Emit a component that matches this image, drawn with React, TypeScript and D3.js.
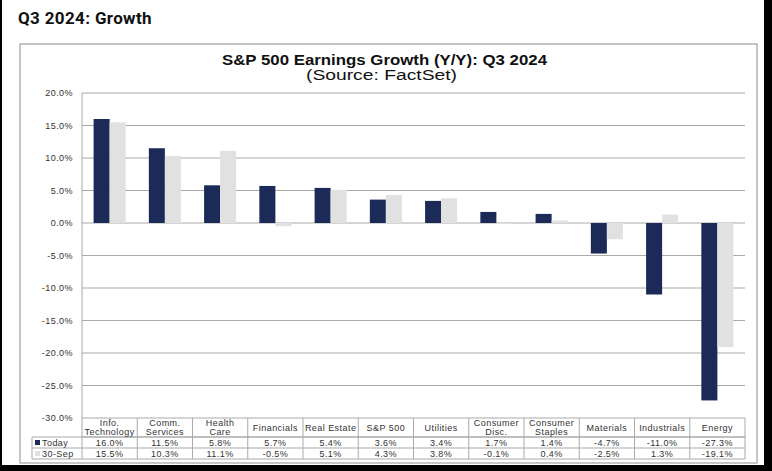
import React from "react";
import * as d3 from "d3";

const categories = [
  ["Info.", "Technology"],
  ["Comm.", "Services"],
  ["Health", "Care"],
  ["Financials"],
  ["Real Estate"],
  ["S&P 500"],
  ["Utilities"],
  ["Consumer", "Disc."],
  ["Consumer", "Staples"],
  ["Materials"],
  ["Industrials"],
  ["Energy"],
];
const todayValues = [16.0, 11.5, 5.8, 5.7, 5.4, 3.6, 3.4, 1.7, 1.4, -4.7, -11.0, -27.3];
const sepValues = [15.5, 10.3, 11.1, -0.5, 5.1, 4.3, 3.8, -0.1, 0.4, -2.5, 1.3, -19.1];
const seriesNames = ["Today", "30-Sep"];
const yTicks = [20, 15, 10, 5, 0, -5, -10, -15, -20, -25, -30];

const W = 772;
const H = 471;
const NAVY = "#1b2a56";
const LIGHT = "#e1e1e1";
const GRID = "#a9a9a9";
const FONT = "'Liberation Sans', Arial, sans-serif";

export default function App() {
  const plotL = 82;
  const plotR = 745;
  const plotT = 93;
  const plotB = 418;
  const x = d3
    .scaleBand<number>()
    .domain(d3.range(categories.length))
    .range([plotL, plotR])
    .paddingInner(0.42)
    .paddingOuter(0.21);
  const xSub = d3.scaleBand<number>().domain([0, 1]).range([0, x.bandwidth()]);
  const y = d3.scaleLinear().domain([-30, 20]).range([plotB, plotT]);
  const step = x.step();
  const colX = (i: number) => plotL + i * step;
  const rowHeader = [418, 437];
  const row1 = [437, 448];
  const row2 = [448, 459];
  const series = [todayValues, sepValues];
  const colors = [NAVY, LIGHT];
  const fmt = (v: number) => v.toFixed(1) + "%";
  const small = 9;
  const ls = 0.45;

  return (
    <svg width={W} height={H} style={{ position: "absolute", left: 0, top: 0 }} fontFamily={FONT}>
      <rect x={0} y={0} width={W} height={H} fill="#fff" />
      <rect x={0} y={0} width={2} height={H} fill="#000" />
      <rect x={764} y={0} width={8} height={H} fill="#000" />
      <rect x={0} y={465} width={W} height={6} fill="#000" />
      <text x={18} y={24} fontFamily="Roboto, sans-serif" fontWeight={700} fontSize={17} letterSpacing={0.35} fill="#111">
        Q3 2024: Growth
      </text>
      <rect x={20} y={44} width={737} height={419} fill="#fff" stroke="#a0a0a0" strokeWidth={1.2} />
      <text x={222} y={65} textLength={325} lengthAdjust="spacingAndGlyphs" fontWeight={700} fontSize={14} fill="#111">
        S&amp;P 500 Earnings Growth (Y/Y): Q3 2024
      </text>
      <text x={306} y={79.5} textLength={151} lengthAdjust="spacingAndGlyphs" fontSize={14} fill="#111">
        (Source: FactSet)
      </text>
      {yTicks.map((t) => (
        <g key={t}>
          <line x1={plotL} x2={plotR} y1={y(t)} y2={y(t)} stroke={GRID} strokeWidth={1} />
          <text x={73} y={y(t) + 3} textAnchor="end" fontSize={small} letterSpacing={ls} fill="#333">
            {t.toFixed(1) + "%"}
          </text>
        </g>
      ))}
      <line x1={plotL} x2={plotL} y1={plotT} y2={plotB} stroke={GRID} />
      {categories.map((_, i) =>
        series.map((vals, s) => {
          const v = vals[i];
          const x0 = (x(i) as number) + (xSub(s) as number);
          const y0 = Math.min(y(v), y(0));
          const h = Math.abs(y(v) - y(0));
          return <rect key={i + "-" + s} x={x0} y={y0} width={xSub.bandwidth()} height={Math.max(h, 0.8)} fill={colors[s]} />;
        })
      )}
      <g stroke={GRID} strokeWidth={1} fill="none">
        <line x1={plotL} x2={plotR} y1={rowHeader[1]} y2={rowHeader[1]} />
        <line x1={32} x2={plotR} y1={row1[0]} y2={row1[0]} />
        <line x1={32} x2={plotR} y1={row2[0]} y2={row2[0]} />
        <line x1={32} x2={plotR} y1={row2[1]} y2={row2[1]} />
        <line x1={32} x2={32} y1={row1[0]} y2={row2[1]} />
        {d3.range(categories.length + 1).map((i) => (
          <line key={i} x1={colX(i)} x2={colX(i)} y1={plotB} y2={row2[1]} />
        ))}
      </g>
      {categories.map((lines, i) => {
        const cx = colX(i) + step / 2;
        const mid = (rowHeader[0] + rowHeader[1]) / 2;
        return (
          <g key={i} fontSize={small} letterSpacing={ls} fill="#333" textAnchor="middle">
            {lines.length === 2 ? (
              <>
                <text x={cx} y={mid - 1.5}>{lines[0]}</text>
                <text x={cx} y={mid + 7.5}>{lines[1]}</text>
              </>
            ) : (
              <text x={cx} y={mid + 3}>{lines[0]}</text>
            )}
            <text x={cx} y={row1[1] - 2.3}>{fmt(todayValues[i])}</text>
            <text x={cx} y={row2[1] - 2.3}>{fmt(sepValues[i])}</text>
          </g>
        );
      })}
      {seriesNames.map((name, s) => {
        const r = s === 0 ? row1 : row2;
        return (
          <g key={name}>
            <rect x={35} y={(r[0] + r[1]) / 2 - 2.5} width={5} height={5} fill={colors[s]} />
            <text x={42} y={r[1] - 2.3} fontSize={small} letterSpacing={ls} fill="#333">
              {name}
            </text>
          </g>
        );
      })}
    </svg>
  );
}
